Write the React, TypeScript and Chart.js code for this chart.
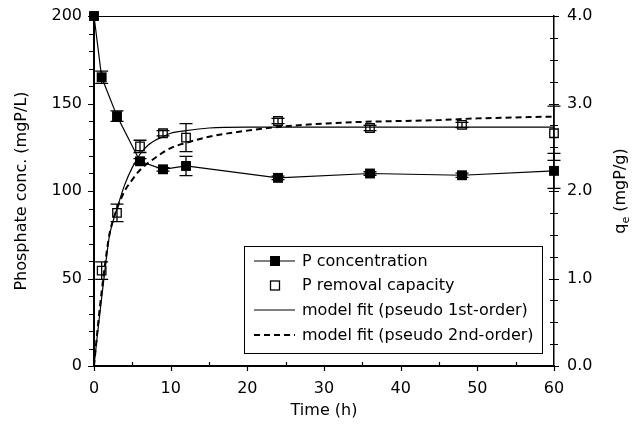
import React, { useEffect, useRef } from "react";
import { Chart, registerables } from "chart.js";
Chart.register(...registerables);

// ---------- data ----------
const timeH = [0, 1, 3, 6, 9, 12, 24, 36, 48, 60];
const pConc = [200, 165, 142.8, 117, 112.4, 114.3, 107.5, 110, 109, 111.5];
const pConcErr = [0, 3.5, 3, 1.5, 1, 5.5, 1, 1, 1.2, 10];
const capacity = [null, 1.09, 1.75, 2.51, 2.66, 2.61, 2.8, 2.72, 2.755, 2.66];
const capacityErr = [0, 0.1, 0.1, 0.07, 0.03, 0.16, 0.03, 0.03, 0.03, 0.31];

const fit1T = [0, 0.5, 1, 1.5, 2, 2.5, 3, 4, 5, 6, 7, 8, 9, 10, 12, 15, 20, 30, 40, 50, 60];
const fit1Q = [0, 0.4, 0.78, 1.15, 1.48, 1.66, 1.8, 2.07, 2.27, 2.42, 2.52, 2.58, 2.62, 2.66, 2.69, 2.72, 2.73, 2.73, 2.73, 2.73, 2.73];

const fit2T = [0, 0.5, 1, 1.5, 2, 2.5, 3, 4, 5, 6, 8, 10, 12, 15, 20, 25, 30, 35, 40, 45, 50, 55, 60, 61.7];
const fit2Q = [0, 0.45, 0.85, 1.2, 1.5, 1.67, 1.8, 2.0, 2.13, 2.24, 2.38, 2.49, 2.55, 2.62, 2.69, 2.74, 2.77, 2.79, 2.8, 2.81, 2.83, 2.84, 2.85, 2.85];

const xTickValues = [0, 10, 20, 30, 40, 50, 60];
const yLeftTickValues = [0, 50, 100, 150, 200];
const yRightTickValues = [0, 1, 2, 3, 4];

const legendLabels = [
  "P concentration",
  "P removal capacity",
  "model fit (pseudo 1st-order)",
  "model fit (pseudo 2nd-order)",
];

const FONT = "'DejaVu Sans', sans-serif";

const decorPlugin = {
  id: "decor",
  afterDatasetsDraw(chart: any) {
    const ctx = chart.ctx;
    const x = chart.scales.x;
    const yL = chart.scales.y;
    const yR = chart.scales.yR;
    const area = chart.chartArea;
    ctx.save();
    ctx.strokeStyle = "#000";
    ctx.lineWidth = 1.3;
    // error bars
    const cap = 6.5;
    const drawErr = (xs: number[], ys: (number | null)[], es: number[], sc: any) => {
      for (let i = 0; i < xs.length; i++) {
        const v = ys[i];
        if (v === null || !es[i]) continue;
        const px = x.getPixelForValue(xs[i]);
        const top = sc.getPixelForValue(v + es[i]);
        const bot = sc.getPixelForValue(v - es[i]);
        ctx.beginPath();
        ctx.moveTo(px, top);
        ctx.lineTo(px, bot);
        ctx.moveTo(px - cap, top);
        ctx.lineTo(px + cap, top);
        ctx.moveTo(px - cap, bot);
        ctx.lineTo(px + cap, bot);
        ctx.stroke();
      }
    };
    drawErr(timeH, pConc, pConcErr, yL);
    drawErr(timeH, capacity, capacityErr, yR);

    // top frame line
    ctx.lineWidth = 1.2;
    ctx.beginPath();
    ctx.moveTo(area.left, area.top + 0.5);
    ctx.lineTo(area.right, area.top + 0.5);
    ctx.stroke();

    // ticks
    ctx.lineWidth = 1.2;
    ctx.beginPath();
    for (let v = 0; v <= 60; v += 5) {
      const px = Math.round(x.getPixelForValue(v)) + 0.5;
      if (v % 10 === 0) {
        ctx.moveTo(px, area.bottom);
        ctx.lineTo(px, area.bottom + 5);
      } else {
        ctx.moveTo(px, area.bottom);
        ctx.lineTo(px, area.bottom - 4);
      }
    }
    for (let v = 0; v <= 200; v += 10) {
      const py = Math.round(yL.getPixelForValue(v)) + 0.5;
      ctx.moveTo(area.left, py);
      ctx.lineTo(area.left - (v % 50 === 0 ? 6 : 5), py);
    }
    for (let v = 0; v <= 4.0001; v += 0.25) {
      const py = Math.round(yR.getPixelForValue(v)) + 0.5;
      const major = Math.abs(v - Math.round(v)) < 1e-6;
      const l = major ? 5 : 4;
      ctx.moveTo(area.right - l, py);
      ctx.lineTo(area.right + l, py);
    }
    ctx.stroke();

    // axis titles
    ctx.fillStyle = "#000";
    ctx.font = `16px ${FONT}`;
    ctx.textAlign = "center";
    ctx.textBaseline = "middle";
    ctx.fillText("Time (h)", (area.left + area.right) / 2, 411);
    ctx.save();
    ctx.translate(22, (area.top + area.bottom) / 2);
    ctx.rotate(-Math.PI / 2);
    ctx.fillText("Phosphate conc. (mgP/L)", 0, 0);
    ctx.restore();
    // right title with subscript
    ctx.save();
    ctx.translate(621, (area.top + area.bottom) / 2);
    ctx.rotate(-Math.PI / 2);
    ctx.textAlign = "left";
    const q = "q";
    const e = "e";
    const rest = " (mgP/g)";
    ctx.font = `16px ${FONT}`;
    const wq = ctx.measureText(q).width;
    const wr = ctx.measureText(rest).width;
    ctx.font = `11px ${FONT}`;
    const we = ctx.measureText(e).width;
    const total = wq + we + wr;
    let cx = -total / 2;
    ctx.font = `16px ${FONT}`;
    ctx.fillText(q, cx, 0);
    cx += wq;
    ctx.font = `11px ${FONT}`;
    ctx.fillText(e, cx, 5);
    cx += we;
    ctx.font = `16px ${FONT}`;
    ctx.fillText(rest, cx, 0);
    ctx.restore();

    // legend
    const bx = 244.5, by = 246.5, bw = 298, bh = 107;
    ctx.fillStyle = "#fff";
    ctx.fillRect(bx, by, bw, bh);
    ctx.strokeStyle = "#000";
    ctx.lineWidth = 1;
    ctx.strokeRect(bx, by, bw, bh);
    const rows = [261, 285.5, 310, 335];
    const lx0 = 254, lx1 = 295, mx = 275;
    ctx.fillStyle = "#000";
    ctx.textAlign = "left";
    ctx.textBaseline = "middle";
    ctx.font = `16px ${FONT}`;
    rows.forEach((ry, i) => {
      ctx.lineWidth = i === 3 ? 2 : 1.2;
      ctx.setLineDash(i === 3 ? [6, 4] : []);
      if (i !== 1) {
        ctx.beginPath();
        ctx.moveTo(lx0, ry);
        ctx.lineTo(lx1, ry);
        ctx.stroke();
      }
      ctx.setLineDash([]);
      if (i === 0) {
        ctx.fillRect(mx - 5, ry - 5, 10, 10);
      } else if (i === 1) {
        ctx.lineWidth = 1.3;
        ctx.strokeRect(mx - 4.5, ry - 4.5, 9, 9);
      }
      ctx.fillText(legendLabels[i], 302, ry + 0.5);
    });
    ctx.restore();
  },
};

const fitY = (s: any, w: number) => {
  s.width = w;
  s.paddingTop = 0;
  s.paddingBottom = 0;
};

export default function App() {
  const ref = useRef<HTMLCanvasElement | null>(null);
  useEffect(() => {
    if (!ref.current) return;
    const chart = new Chart(ref.current, {
      type: "scatter",
      data: {
        datasets: [
          {
            label: "fit1",
            data: fit1T.map((t, i) => ({ x: t, y: fit1Q[i] })),
            yAxisID: "yR",
            showLine: true,
            borderColor: "#000",
            borderWidth: 1.2,
            pointRadius: 0,
            cubicInterpolationMode: "monotone",
          } as any,
          {
            label: "fit2",
            data: fit2T.map((t, i) => ({ x: t, y: fit2Q[i] })),
            yAxisID: "yR",
            showLine: true,
            borderColor: "#000",
            borderWidth: 2,
            borderDash: [6, 4],
            pointRadius: 0,
            cubicInterpolationMode: "monotone",
            clip: false,
          } as any,
          {
            label: "conc",
            data: timeH.map((t, i) => ({ x: t, y: pConc[i] })),
            yAxisID: "y",
            showLine: true,
            borderColor: "#000",
            borderWidth: 1.2,
            pointStyle: "rect",
            pointRadius: 7,
            pointBackgroundColor: "#000",
            pointBorderColor: "#000",
            pointBorderWidth: 0,
            clip: false,
          } as any,
          {
            label: "cap",
            data: timeH
              .map((t, i) => ({ x: t, y: capacity[i] }))
              .filter((p) => p.y !== null),
            yAxisID: "yR",
            showLine: false,
            pointStyle: "rect",
            pointRadius: 6,
            pointBackgroundColor: "rgba(0,0,0,0)",
            pointBorderColor: "#000",
            pointBorderWidth: 1.3,
            clip: false,
          } as any,
        ],
      },
      options: {
        animation: false,
        responsive: false,
        devicePixelRatio: 1,
        layout: { padding: { top: 16, left: 0, right: 0, bottom: 0 } },
        plugins: { legend: { display: false }, tooltip: { enabled: false } },
        scales: {
          x: {
            type: "linear",
            min: 0,
            max: 60,
            afterBuildTicks: (s: any) => {
              s.ticks = xTickValues.map((v) => ({ value: v }));
            },
            afterFit: (s: any) => {
              s.height = 61;
              s.paddingLeft = 0;
              s.paddingRight = 0;
            },
            ticks: {
              color: "#000",
              font: { family: FONT, size: 16 },
              padding: 13,
              maxRotation: 0,
            },
            grid: { display: true, drawOnChartArea: false, drawTicks: false },
            border: { display: true, color: "#000", width: 2 },
          },
          y: {
            type: "linear",
            position: "left",
            min: 0,
            max: 200,
            afterBuildTicks: (s: any) => {
              s.ticks = yLeftTickValues.map((v) => ({ value: v }));
            },
            afterFit: (s: any) => fitY(s, 94),
            ticks: {
              color: "#000",
              font: { family: FONT, size: 16 },
              padding: 12,
            },
            grid: { display: true, drawOnChartArea: false, drawTicks: false },
            border: { display: true, color: "#000", width: 2 },
          },
          yR: {
            type: "linear",
            position: "right",
            min: 0,
            max: 4,
            afterBuildTicks: (s: any) => {
              s.ticks = yRightTickValues.map((v) => ({ value: v }));
            },
            afterFit: (s: any) => fitY(s, 80),
            ticks: {
              color: "#000",
              font: { family: FONT, size: 16 },
              padding: 13,
              callback: (v: any) => Number(v).toFixed(1),
            },
            grid: { display: true, drawOnChartArea: false, drawTicks: false },
            border: { display: true, color: "#000", width: 1.5 },
          },
        },
      } as any,
      plugins: [decorPlugin],
    });
    return () => chart.destroy();
  }, []);
  return (
    <div
      style={{
        position: "fixed",
        left: 0,
        top: 0,
        width: 634,
        height: 427,
        background: "#fff",
      }}
    >
      <canvas ref={ref} width={634} height={427} style={{ display: "block" }} />
    </div>
  );
}
